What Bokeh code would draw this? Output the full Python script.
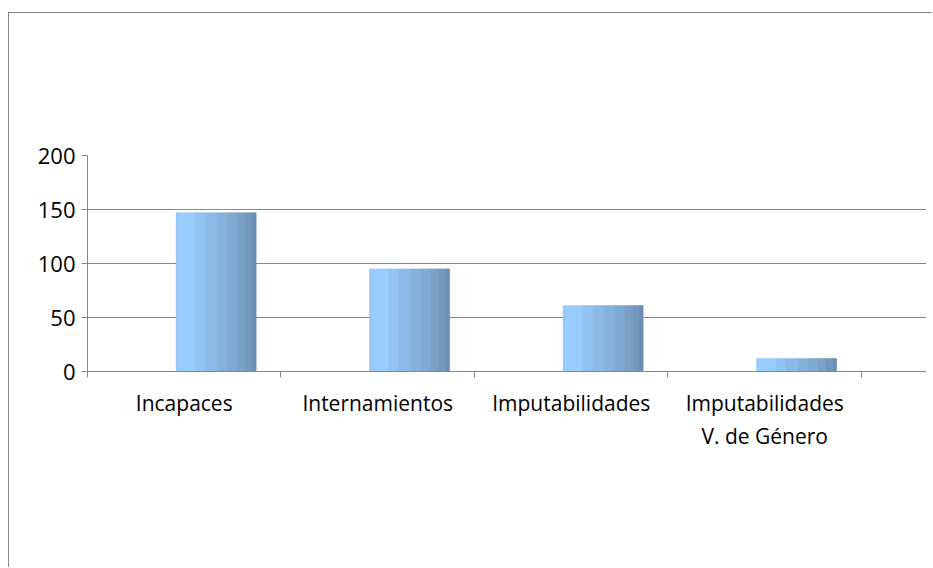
from bokeh.plotting import figure
from bokeh.models import FixedTicker, Range1d
from bokeh.embed import file_html
from bokeh.resources import INLINE

categories = ["Incapaces", "Internamientos", "Imputabilidades", "Imputabilidades\nV. de Género"]
values = [147, 95, 61, 12]
y_ticks = [0, 50, 100, 150, 200]

# shading strips of each bar (relative widths and colours)
strip_frac = [2, 17, 10, 12, 10, 10, 8, 7, 4]
strip_colors = ["#8FC2F4", "#99CCFF", "#92C3F3", "#8BBAE8", "#85B2DD", "#7FAAD3",
                "#79A1C8", "#7398BD", "#6B8EB2"]

FONT = "Open Sans"
GRID = "#878787"

p = figure(width=924, height=555, output_backend="svg", toolbar_location=None,
           x_range=Range1d(0, 4.336), y_range=Range1d(0, 200),
           min_border_left=78, min_border_top=142, min_border_bottom=197,
           min_border_right=7)
p.styles = {"margin-top": "12px", "margin-left": "8px",
            "border-left": "1px solid #868686", "border-top": "1px solid #868686"}
p.outline_line_color = None
p.background_fill_color = "white"
p.border_fill_color = "white"

offset = 0.165
bw = 0.413
total = sum(strip_frac)
for i, v in enumerate(values):
    left0 = i + 0.5 + offset - bw / 2
    cum = 0
    lefts, rights = [], []
    for f in strip_frac:
        lefts.append(left0 + bw * cum / total)
        cum += f
        rights.append(left0 + bw * cum / total)
    p.quad(left=lefts, right=rights, bottom=[0] * len(lefts), top=[v] * len(lefts),
           fill_color=strip_colors, line_color=strip_colors, line_width=0.6)

# x axis
p.xaxis.ticker = FixedTicker(ticks=[i + 0.5 for i in range(len(categories))],
                             minor_ticks=list(range(len(categories) + 1)))
p.xaxis.major_label_overrides = {i + 0.5: c for i, c in enumerate(categories)}
p.xaxis.major_tick_line_color = None
p.xaxis.minor_tick_line_color = GRID
p.xaxis.minor_tick_out = 6
p.xaxis.minor_tick_in = 0
p.xaxis.axis_line_color = GRID
p.xaxis.major_label_text_font = FONT
p.xaxis.major_label_text_font_size = "21px"
p.xaxis.major_label_text_color = "black"
p.xaxis.major_label_standoff = 11

# y axis
p.yaxis.ticker = FixedTicker(ticks=y_ticks, minor_ticks=[])
p.yaxis.axis_line_color = GRID
p.yaxis.major_tick_line_color = GRID
p.yaxis.major_tick_out = 6
p.yaxis.major_tick_in = 0
p.yaxis.major_label_text_font = FONT
p.yaxis.major_label_text_font_size = "22px"
p.yaxis.major_label_text_color = "black"
p.yaxis.major_label_standoff = 6

p.xgrid.grid_line_color = None
p.ygrid.grid_line_color = GRID
p.ygrid.grid_line_width = 1

open("out.html", "w").write(file_html(p, INLINE))
